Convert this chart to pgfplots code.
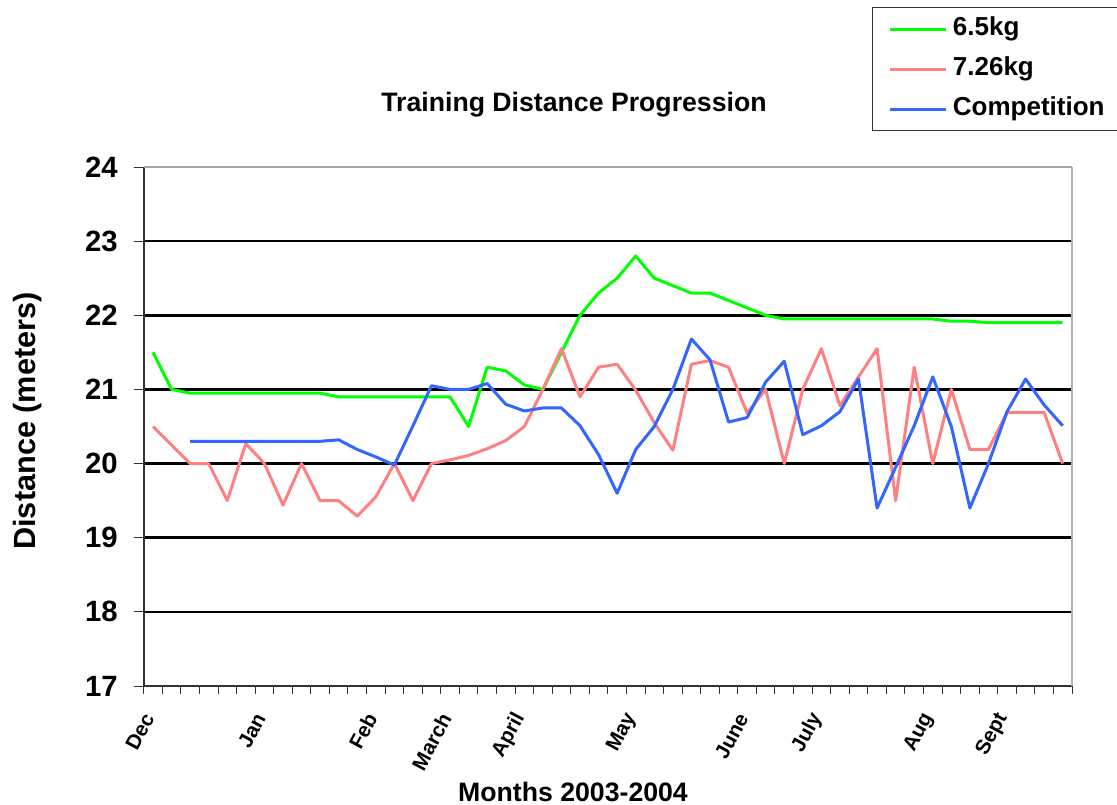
\documentclass[border=0pt]{standalone}
\usepackage{pgfplots}
\pgfplotsset{compat=1.18}
\usepackage{pgfplotstable}
\usepackage{fontspec}
\setmainfont{Liberation Sans}
\definecolor{cgreen}{HTML}{00FF00}
\definecolor{csalmon}{HTML}{FF8080}
\definecolor{cblue}{HTML}{3366FF}
\pgfplotstableread{
x y
0 21.5
1 21.0
2 20.95
3 20.95
4 20.95
5 20.95
6 20.95
7 20.95
8 20.95
9 20.95
10 20.9
11 20.9
12 20.9
13 20.9
14 20.9
15 20.9
16 20.9
17 20.5
18 21.3
19 21.25
20 21.06
21 21.0
22 21.5
23 22.0
24 22.3
25 22.5
26 22.8
27 22.5
28 22.4
29 22.3
30 22.3
31 22.2
32 22.1
33 22.0
34 21.95
35 21.95
36 21.95
37 21.95
38 21.95
39 21.95
40 21.95
41 21.95
42 21.95
43 21.92
44 21.92
45 21.9
46 21.9
47 21.9
48 21.9
49 21.9
}\greendata
\pgfplotstableread{
x y
0 20.5
1 20.25
2 20.0
3 20.0
4 19.5
5 20.27
6 20.0
7 19.44
8 20.0
9 19.5
10 19.5
11 19.29
12 19.55
13 20.0
14 19.5
15 20.0
16 20.05
17 20.11
18 20.2
19 20.31
20 20.5
21 21.0
22 21.55
23 20.9
24 21.3
25 21.34
26 20.99
27 20.55
28 20.18
29 21.34
30 21.39
31 21.3
32 20.68
33 21.0
34 20.0
35 21.0
36 21.55
37 20.78
38 21.17
39 21.55
40 19.5
41 21.3
42 20.0
43 21.0
44 20.19
45 20.19
46 20.69
47 20.69
48 20.69
49 20.0
}\salmondata
\pgfplotstableread{
x y
2 20.3
3 20.3
4 20.3
5 20.3
6 20.3
7 20.3
8 20.3
9 20.3
10 20.32
11 20.19
12 20.09
13 19.98
14 20.51
15 21.05
16 21.0
17 21.0
18 21.08
19 20.8
20 20.71
21 20.75
22 20.75
23 20.51
24 20.12
25 19.6
26 20.19
27 20.5
28 21.0
29 21.68
30 21.4
31 20.56
32 20.62
33 21.1
34 21.38
35 20.39
36 20.51
37 20.7
38 21.14
39 19.4
40 19.95
41 20.51
42 21.17
43 20.5
44 19.4
45 20.0
46 20.7
47 21.14
48 20.79
49 20.51
}\bluedata
\begin{document}
\begin{tikzpicture}
\useasboundingbox (0pt,0pt) rectangle (837.75pt,603.75pt);
\begin{axis}[
  at={(107.8pt,89.25pt)}, anchor=south west,
  scale only axis, width=696.2pt, height=389.25pt,
  xmin=-0.5, xmax=49.5, ymin=17, ymax=24,
  axis line style={draw=gray!60, line width=0.8pt},
  axis x line*=bottom, axis y line*=left,
  ytick={17,...,24},
  xtick={0,6,12,16,20,26,32,36,42,46},
  xticklabels={Dec,Jan,Feb,March,April,May,June,July,Aug,Sept},
  minor xtick={-0.5,0.5,...,49.5},
  tick align=outside,
  major tick length=7.5pt, minor tick length=6pt,
  major x tick style={draw=none},
  every tick/.style={draw=black!80, line width=0.7pt},
  /pgf/number format/assume math mode=true,
  yticklabel style={font=\bfseries\fontsize{22}{22}\selectfont, xshift=-8.5pt},
  xticklabel style={font=\bfseries\fontsize{15.5}{15.5}\selectfont, xshift=-1.5pt, yshift=-11pt, rotate=62, anchor=east},
  extra y ticks={18,...,23},
  extra y tick labels={},
  extra y tick style={grid=major, major grid style={black, line width=2pt}},
  clip=false,
  legend style={at={(0.7846,1.308)}, anchor=north west, draw=black!80, line width=0.8pt, fill=white,
    font=\bfseries\fontsize{19.5}{19.5}\selectfont, inner xsep=12pt, inner ysep=5pt,
    row sep=8pt, nodes={inner sep=2pt, text height=14pt, text depth=4pt}},
  legend cell align=left,
  legend image code/.code={\draw[#1, line width=2.25pt] (0pt,0pt) -- (42pt,0pt); \path (44pt,0pt);},
]
\draw[black!80, line width=1.2pt] (rel axis cs:0,0) -- (rel axis cs:0,1);
\draw[black!80, line width=0.8pt] (rel axis cs:0,0) -- (rel axis cs:1,0);
\draw[gray!60, line width=0.8pt] (rel axis cs:1,0) -- (rel axis cs:1,1);
\draw[gray!70, line width=1.5pt] (rel axis cs:0,1) -- (rel axis cs:1,1);
\addplot[cgreen, line width=2.25pt, line join=round] table[x=x,y=y] {\greendata};
\addlegendentry{6.5kg}
\addplot[csalmon, line width=2.25pt, line join=round] table[x=x,y=y] {\salmondata};
\addlegendentry{7.26kg}
\addplot[cblue, line width=2.25pt, line join=round] table[x=x,y=y] {\bluedata};
\addlegendentry{Competition}
\end{axis}
\node[font=\bfseries\fontsize{20}{20}\selectfont] at (430.5pt,525pt) {Training Distance Progression};
\node[font=\bfseries\fontsize{20}{20}\selectfont] at (429.75pt,10pt) {Months 2003-2004};
\node[font=\bfseries\fontsize{23}{23}\selectfont, rotate=90] at (21pt,288pt) {Distance (meters)};
\end{tikzpicture}
\end{document}
